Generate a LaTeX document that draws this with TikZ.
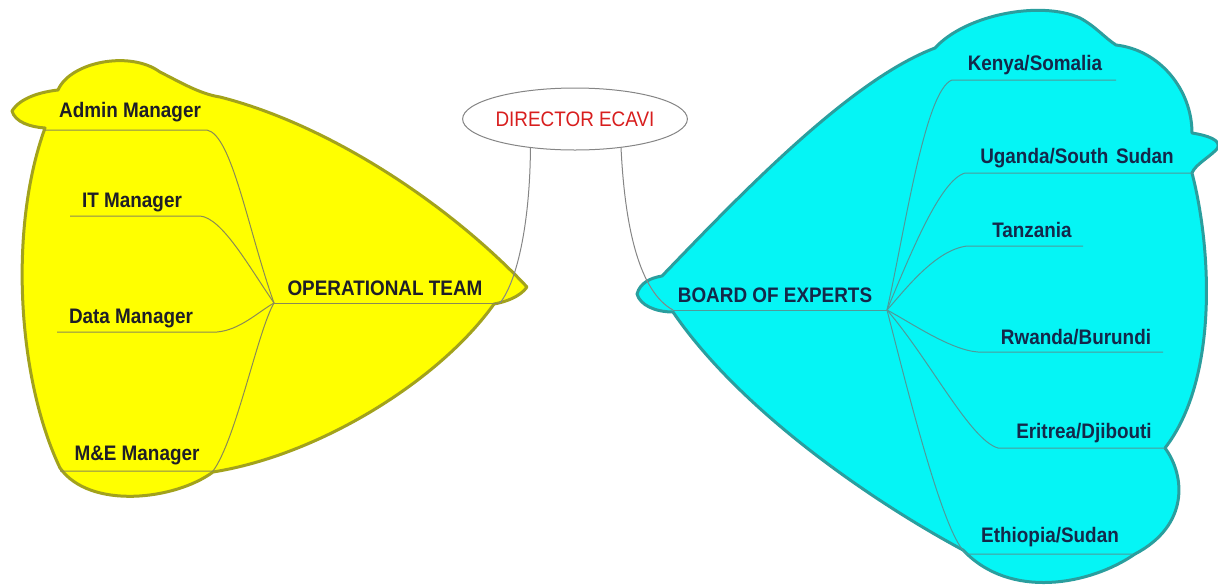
\documentclass[tikz,border=0pt]{standalone}
\usepackage{fontspec}
\setmainfont{Liberation Sans}
\usepackage{graphicx}
\usetikzlibrary{shapes.geometric}
\definecolor{yfill}{HTML}{FFFF00}
\definecolor{yline}{HTML}{A2A21C}
\definecolor{ybranch}{HTML}{8A8A55}
\definecolor{cfill}{HTML}{05F5F5}
\definecolor{cline}{HTML}{2A9E9E}
\definecolor{cbranch}{HTML}{4E9A9A}
\definecolor{ytext}{HTML}{1E1E28}
\definecolor{ctext}{HTML}{14284A}
\definecolor{dred}{HTML}{D81E1E}
\definecolor{dgrey}{HTML}{858585}
\newcommand{\nx}[1]{\scalebox{0.9}[1]{#1}}
\begin{document}
\begin{tikzpicture}[x=0.75pt,y=-0.75pt,
  yblob/.style={fill=yfill, draw=yline, line width=2.25pt, line join=round},
  cblob/.style={fill=cfill, draw=cline, line width=2.25pt, line join=round},
  ybr/.style={draw=ybranch, line width=0.75pt},
  cbr/.style={draw=cbranch, line width=0.75pt},
  dirline/.style={draw=dgrey, line width=0.75pt},
  ylbl/.style={inner sep=0pt, font=\fontsize{15.75}{18}\selectfont\bfseries, text=ytext},
  clbl/.style={inner sep=0pt, font=\fontsize{15.75}{18}\selectfont\bfseries, text=ctext},
  dirnode/.style={ellipse, draw=dgrey, line width=0.75pt, fill=white, inner sep=0pt,
    minimum width=145.5pt, minimum height=46.5pt,
    font=\fontsize{15.75}{18}\selectfont, text=dred}]
\path[use as bounding box] (0,0) rectangle (1218,587);

% ---------- yellow blob ----------
\path[yblob] (12,111)
  .. controls (20,98) and (40,92) .. (58,90)
  .. controls (70,62) and (130,50) .. (160,72)
  .. controls (180,82) and (200,94) .. (220,97)
  .. controls (330,125) and (450,205) .. (527,287)
  .. controls (520,297) and (505,302) .. (494,304)
  .. controls (440,380) and (320,455) .. (213,472)
  .. controls (175,500) and (90,510) .. (60,468)
  .. controls (18,380) and (8,230) .. (45,128)
  .. controls (30,127) and (15,122) .. (12,111) -- cycle;

% ---------- cyan blob ----------
\path[cblob] (637,294)
  .. controls (640,283) and (650,278) .. (662,276)
  .. controls (740,195) and (850,80) .. (935,48)
  .. controls (965,15) and (1040,0) .. (1080,18)
  .. controls (1095,26) and (1105,38) .. (1116,45)
  .. controls (1160,50) and (1192,90) .. (1192,133)
  .. controls (1205,135) and (1225,140) .. (1216,150)
  .. controls (1208,158) and (1195,165) .. (1192,173)
  .. controls (1212,250) and (1218,380) .. (1165,448)
  .. controls (1185,475) and (1190,525) .. (1135,554)
  .. controls (1090,585) and (1010,600) .. (963,550)
  .. controls (870,500) and (740,410) .. (673,312)
  .. controls (655,312) and (640,305) .. (637,294) -- cycle;

% ---------- operational team ----------
\coordinate (ophub) at (274,303);
\coordinate (opR) at (500,303);
\node[ylbl] (op) at (385,288) {\nx{OPERATIONAL TEAM}};
\draw[ybr] (ophub) -- (opR);

\coordinate (adL) at (45,130);  \coordinate (adR) at (207,130);
\coordinate (itL) at (70,216);  \coordinate (itR) at (200,216);
\coordinate (daL) at (57,332);  \coordinate (daR) at (217,332);
\coordinate (meL) at (60,471);  \coordinate (meR) at (213,471);
\node[ylbl] (ad) at (130,112) {\nx{Admin Manager}};
\node[ylbl] (it) at (132,202) {\nx{IT Manager}};
\node[ylbl] (da) at (131,318) {\nx{Data Manager}};
\node[ylbl] (me) at (137,455) {\nx{M\&E Manager}};
\draw[ybr] (adL) -- (adR) .. controls (232,135) and (248,230) .. (ophub);
\draw[ybr] (itL) -- (itR) .. controls (222,218) and (248,265) .. (ophub);
\draw[ybr] (daL) -- (daR) .. controls (240,330) and (258,312) .. (ophub);
\draw[ybr] (meL) -- (meR) .. controls (236,440) and (258,330) .. (ophub);

% ---------- board of experts ----------
\coordinate (bhub) at (887,310);
\coordinate (bL) at (673,310);
\node[clbl] (bo) at (775,295) {\nx{BOARD OF EXPERTS}};
\draw[cbr] (bL) -- (bhub);

\coordinate (keL) at (952,80);   \coordinate (keR) at (1116,80);
\coordinate (ugL) at (965,173);  \coordinate (ugR) at (1193,173);
\coordinate (taL) at (967,246);  \coordinate (taR) at (1083,246);
\coordinate (rwL) at (978,352);  \coordinate (rwR) at (1163,352);
\coordinate (erL) at (998,448);  \coordinate (erR) at (1165,448);
\coordinate (etL) at (967,554);  \coordinate (etR) at (1133,554);
\node[clbl] (ke) at (1035,65)  {\nx{Kenya/Somalia}};
\node[clbl] (ug) at (1077,158) {\nx{Uganda/South\hspace{2pt} Sudan}};
\node[clbl] (ta) at (1032,230) {\nx{Tanzania}};
\node[clbl] (rw) at (1076,337) {\nx{Rwanda/Burundi}};
\node[clbl] (er) at (1084,433) {\nx{Eritrea/Djibouti}};
\node[clbl] (et) at (1050,537) {\nx{Ethiopia/Sudan}};
\draw[cbr] (keR) -- (keL) .. controls (925,90) and (905,230) .. (bhub);
\draw[cbr] (ugR) -- (ugL) .. controls (940,180) and (910,255) .. (bhub);
\draw[cbr] (taR) -- (taL) .. controls (935,250) and (905,290) .. (bhub);
\draw[cbr] (rwR) -- (rwL) .. controls (950,350) and (910,322) .. (bhub);
\draw[cbr] (erR) -- (erL) .. controls (970,440) and (930,360) .. (bhub);
\draw[cbr] (etR) -- (etL) .. controls (945,540) and (910,400) .. (bhub);

% ---------- director ----------
\node[dirnode] (dir) at (575,119) {\nx{DIRECTOR ECAVI}};
\draw[dirline] (dir.213.7) .. controls (530,220) and (518,280) .. (opR);
\draw[dirline] (dir.328.7) .. controls (625,230) and (640,292) .. (bL);
\end{tikzpicture}
\end{document}
